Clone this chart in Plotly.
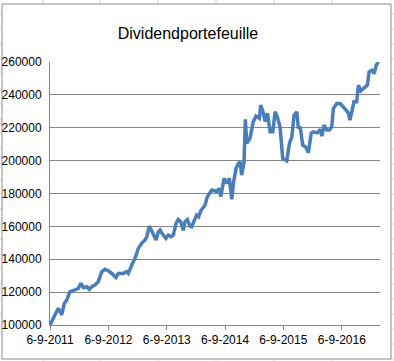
import plotly.graph_objects as go

# ---- data ----
dates = [
    "2011-09-06", "2011-10-28", "2011-11-18", "2011-12-05", "2011-12-20",
    "2012-01-09", "2012-02-10", "2012-03-01", "2012-03-18", "2012-04-02",
    "2012-04-23", "2012-05-09", "2012-05-24", "2012-06-14", "2012-07-04",
    "2012-07-26", "2012-08-15", "2012-09-05", "2012-09-26", "2012-10-23",
    "2012-11-07", "2012-12-08", "2012-12-29", "2013-01-08", "2013-01-30",
    "2013-02-19", "2013-03-12", "2013-04-02", "2013-04-23", "2013-05-04",
    "2013-05-20", "2013-06-04", "2013-06-18", "2013-07-01", "2013-07-15",
    "2013-07-26", "2013-08-15", "2013-09-01", "2013-09-16", "2013-10-02",
    "2013-10-17", "2013-11-03", "2013-11-17", "2013-12-02", "2013-12-19",
    "2013-12-29", "2014-01-13", "2014-01-29", "2014-02-09", "2014-02-24",
    "2014-03-12", "2014-03-25", "2014-04-07", "2014-05-04", "2014-05-18",
    "2014-06-15", "2014-07-16", "2014-08-01", "2014-08-10", "2014-08-31",
    "2014-09-17", "2014-10-03", "2014-10-18", "2014-10-28", "2014-11-14",
    "2014-11-28", "2014-12-09", "2014-12-19", "2015-01-03", "2015-01-11",
    "2015-01-20", "2015-02-09", "2015-03-02", "2015-03-19", "2015-04-09",
    "2015-04-17", "2015-05-04", "2015-05-15", "2015-05-29", "2015-06-15",
    "2015-07-02", "2015-07-16", "2015-07-30", "2015-08-16", "2015-09-02",
    "2015-09-27", "2015-10-14", "2015-10-29", "2015-11-12", "2015-11-29",
    "2015-12-09", "2015-12-20", "2016-01-05", "2016-01-26", "2016-02-10",
    "2016-02-27", "2016-03-12", "2016-04-06", "2016-04-23", "2016-05-04",
    "2016-05-18", "2016-06-04", "2016-06-20", "2016-07-05", "2016-07-15",
    "2016-08-05", "2016-08-26", "2016-09-15", "2016-10-16", "2016-10-27",
    "2016-11-07", "2016-11-21", "2016-12-08", "2016-12-19", "2017-01-03",
    "2017-01-30", "2017-02-13", "2017-02-24", "2017-03-13", "2017-03-28",
    "2017-04-09", "2017-04-24",
]
values = [
    100000, 110200, 106100, 113200, 115200,
    120300, 121300, 122300, 125400, 122700,
    123300, 121700, 123300, 124300, 126300,
    132400, 133900, 133000, 131400, 128900,
    131400, 131400, 132400, 131400, 136500,
    140500, 146600, 149700, 151700, 153700,
    160200, 156700, 153700, 151700, 156700,
    157800, 154700, 152700, 154700, 153700,
    154700, 161800, 164200, 162800, 157500,
    162800, 164200, 160200, 159800, 163800,
    166900, 165800, 169500, 173000, 178000,
    182100, 181200, 183200, 178000, 189200,
    186200, 189200, 176400, 186200, 195300,
    198300, 199300, 191200, 199300, 225100,
    210500, 213500, 223700, 227100, 225700,
    233800, 228800, 223700, 228800, 217500,
    217500, 229700, 226700, 220600, 201300,
    199900, 210500, 214500, 227700, 229700,
    219600, 220600, 209500, 208000, 204800,
    216600, 217500, 216900, 219000, 214900,
    221600, 218600, 218600, 220600, 231700,
    234800, 234800, 232700, 229100, 224600,
    230700, 235800, 235800, 245900, 242400,
    244500, 245900, 254000, 255000, 253000,
    258100, 260100,
]
tick_dates = ["2011-09-06", "2012-09-06", "2013-09-06", "2014-09-06", "2015-09-06", "2016-09-06"]
tick_labels = ["6-9-2011", "6-9-2012", "6-9-2013", "6-9-2014", "6-9-2015", "6-9-2016"]
y_ticks = [100000, 120000, 140000, 160000, 180000, 200000, 220000, 240000, 260000]
title_text = "Dividendportefeuille"

# ---- layout geometry ----
W, H = 394, 361
L, R, T, B = 50, 14, 62, 36
PW, PH = W - L - R, H - T - B

def px(x):
    return (x - L) / PW

def py(y):
    return (H - B - y) / PH

FONT = "Liberation Sans, Arial, sans-serif"
GRID = "#868686"

fig = go.Figure()
fig.add_trace(go.Scatter(
    x=dates, y=values, mode="lines",
    line=dict(color="#4a7ebb", width=3.5),
    hoverinfo="skip", showlegend=False,
))

shapes = []
# spreadsheet cell lines outside the chart
for xv in [43, 100, 158, 216, 274, 332]:
    shapes.append(dict(type="line", xref="paper", yref="paper",
                       x0=px(xv), x1=px(xv), y0=py(0), y1=py(4),
                       line=dict(color="#d4d4d4", width=1), layer="below"))
    shapes.append(dict(type="line", xref="paper", yref="paper",
                       x0=px(xv), x1=px(xv), y0=py(359), y1=py(361),
                       line=dict(color="#d4d4d4", width=1), layer="below"))
for yv in range(14, 361, 15):
    shapes.append(dict(type="line", xref="paper", yref="paper",
                       x0=px(0), x1=px(2), y0=py(yv), y1=py(yv),
                       line=dict(color="#d4d4d4", width=1), layer="below"))
    shapes.append(dict(type="line", xref="paper", yref="paper",
                       x0=px(391), x1=px(394), y0=py(yv), y1=py(yv),
                       line=dict(color="#d4d4d4", width=1), layer="below"))
# chart border
shapes.append(dict(type="rect", xref="paper", yref="paper",
                   x0=px(2), x1=px(391), y0=py(359), y1=py(4),
                   line=dict(color="#8c8c8c", width=1), layer="below"))

fig.update_layout(
    width=W, height=H,
    margin=dict(l=L, r=R, t=T, b=B, pad=0, autoexpand=False),
    paper_bgcolor="white", plot_bgcolor="white",
    font=dict(family=FONT, size=12, color="#000000"),
    title=dict(text=title_text, x=188 / W, xref="container", xanchor="center",
               y=1 - 33 / H, yref="container", yanchor="middle",
               font=dict(family=FONT, size=16, color="#000000")),
    xaxis=dict(
        type="date", range=["2011-09-06", "2017-05-03"],
        tickvals=tick_dates, ticktext=tick_labels, automargin=False,
        showgrid=False, zeroline=False,
        showline=True, linecolor=GRID, linewidth=1,
        ticks="outside", ticklen=4, tickcolor=GRID, tickwidth=1,
        tickfont=dict(family=FONT, size=12, color="#000000"),
    ),
    yaxis=dict(
        range=[100000, 260000], tickvals=y_ticks, tickformat="d", automargin=False,
        showgrid=True, gridcolor=GRID, gridwidth=1, zeroline=False,
        showline=True, linecolor=GRID, linewidth=1,
        ticks="", ticklabelstandoff=5,
        tickfont=dict(family=FONT, size=12, color="#000000"),
    ),
    shapes=shapes,
)

fig.write_html(
    "out.html",
    config={"displayModeBar": False, "responsive": False},
    post_script="document.body.style.margin='0';document.body.style.overflow='hidden';",
)
